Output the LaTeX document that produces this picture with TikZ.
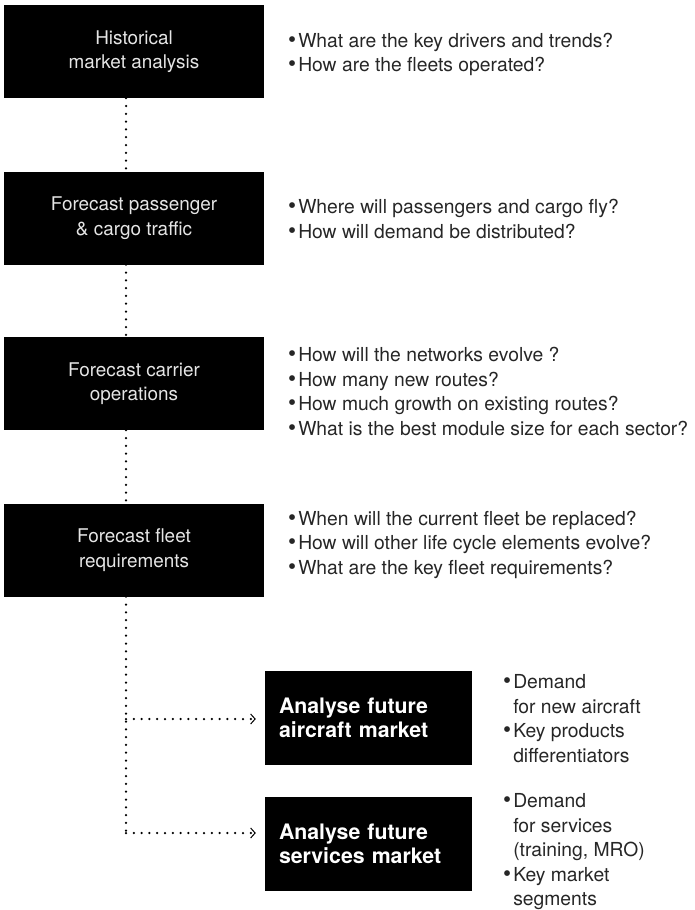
\documentclass[tikz,border=0pt]{standalone}
\usepackage{fontspec}
\setmainfont{TeX Gyre Heros}
\usetikzlibrary{arrows.meta, positioning}
\newcommand{\qb}{{\fontsize{23}{24.5}\selectfont\textbullet}\kern2pt}
\newcommand{\qi}{\hphantom{\qb}}
\begin{document}
\begin{tikzpicture}[
    x=1pt, y=-1pt,
    font=\fontsize{19.3}{24.5}\selectfont,
    stage/.style={fill=black, text=black!10, font=\fontsize{18.9}{24.5}\selectfont, minimum width=260pt, minimum height=93pt, align=center, inner sep=0pt},
    market/.style={fill=black, text=white, font=\fontsize{21.3}{24.5}\selectfont\bfseries, minimum width=207pt, minimum height=94pt, text width=179pt, align=left, inner xsep=14pt, inner ysep=0pt},
    questions/.style={anchor=west, align=left, inner sep=0pt, text=black!85},
    flow/.style={line width=2.5pt, line cap=round, dash pattern=on 0pt off 7.8pt},
    feed/.style={flow, shorten >=9pt, -{Straight Barb[length=4.5pt, width=10pt, line width=1pt]}}
]
\useasboundingbox (0,0) rectangle (694,910);

% STAGES
\node[stage] (hist) at (134,51.5) {Historical\\market analysis};
\node[stage] (pax) at (134,218) {Forecast passenger\\\& cargo traffic};
\node[stage] (carrier) at (134,383.5) {Forecast carrier\\operations};
\node[stage] (fleet) at (134,550) {Forecast fleet\\requirements};
\node[market] (aircraft) at (368.5,718) {Analyse future\\aircraft market};
\node[market] (services) at (368.5,844) {Analyse future\\services market};

% QUESTIONS
\node[questions] (q_hist) at (288,54.5) {\qb What are the key drivers and trends?\\\qb How are the fleets operated?};
\node[questions] (q_pax) at (288,219) {\qb Where will passengers and cargo fly?\\\qb How will demand be distributed?};
\node[questions] (q_carrier) at (288,391.5) {\qb How will the networks evolve ?\\\qb How many new routes?\\\qb How much growth on existing routes?\\\qb What is the best module size for each sector?};
\node[questions] (q_fleet) at (288,544.5) {\qb When will the current fleet be replaced?\\\qb How will other life cycle elements evolve?\\\qb What are the key fleet requirements?};
\node[questions] (q_aircraft) at (503,718.5) {\qb Demand\\\qi for new aircraft\\\qb Key products\\\qi differentiators};
\node[questions] (q_services) at (503,852) {\qb Demand\\\qi for services\\\qi (training, MRO)\\\qb Key market\\\qi segments};

% CONNECTORS
\coordinate (spine) at (126,0);
\coordinate (turn_a) at (126,719);
\coordinate (turn_s) at (126,833);
\draw[flow] (hist.south -| spine) -- (pax.north -| spine);
\draw[flow] (pax.south -| spine) -- (carrier.north -| spine);
\draw[flow] (carrier.south -| spine) -- (fleet.north -| spine);
\draw[flow] (fleet.south -| spine) -- (turn_s);
\draw[feed] (turn_a) -- (aircraft.west |- turn_a);
\draw[feed] (turn_s) -- (services.west |- turn_s);

\end{tikzpicture}
\end{document}
